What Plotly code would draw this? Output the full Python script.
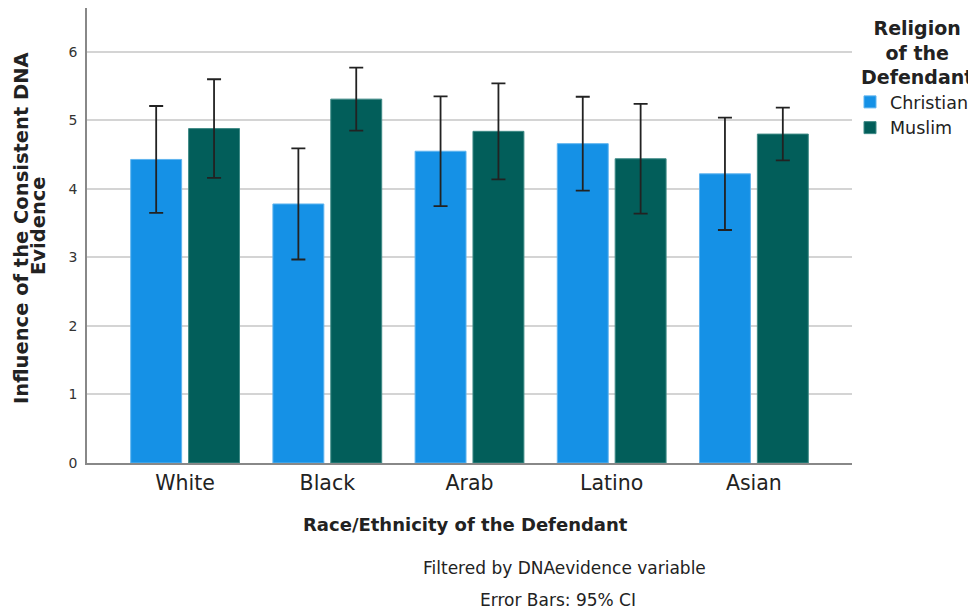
import plotly.graph_objects as go

categories = ["White", "Black", "Arab", "Latino", "Asian"]
christian_mean = [4.43, 3.78, 4.55, 4.66, 4.22]
christian_hi = [5.21, 4.59, 5.35, 5.345, 5.04]
muslim_mean = [4.88, 5.31, 4.84, 4.44, 4.80]
muslim_hi = [5.60, 5.77, 5.54, 5.24, 5.185]

c_err = [h - m for h, m in zip(christian_hi, christian_mean)]
m_err = [h - m for h, m in zip(muslim_hi, muslim_mean)]

FONT = "DejaVu Sans, sans-serif"
OFF = 8  # page body margin
W, H = 976 - OFF, 613 - OFF
L, T = 87 - OFF, 8 - OFF
R = W - (852 - OFF)
B = H - (463 - OFF)
PW, PH = W - L - R, H - T - B


def px(x):  # screenshot x -> paper
    return (x - OFF - L) / PW


def py(y):  # screenshot y (from top) -> paper
    return (H - B - (y - OFF)) / PH


fig = go.Figure()
fig.add_trace(go.Bar(
    x=categories, y=christian_mean, name="Christian",
    marker=dict(color="#1591E6", line=dict(color="#5fb4ef", width=1)),
    error_y=dict(type="data", array=c_err, visible=True, color="#222222", thickness=1.8, width=7),
))
fig.add_trace(go.Bar(
    x=categories, y=muslim_mean, name="Muslim",
    marker=dict(color="#025E5A", line=dict(color="#3f8a86", width=1)),
    error_y=dict(type="data", array=m_err, visible=True, color="#222222", thickness=1.8, width=7),
))

fig.update_layout(
    width=W, height=H,
    margin=dict(l=L, r=R, t=T, b=B, autoexpand=False),
    plot_bgcolor="white", paper_bgcolor="white",
    barmode="group", bargap=0.186, bargroupgap=0.12,
    font=dict(family=FONT, color="#222222"),
    showlegend=True,
    legend=dict(x=px(850), xanchor="left", y=py(84), yanchor="top",
                font=dict(size=17.5, family=FONT, color="#222222"),
                tracegroupgap=0, bgcolor="rgba(0,0,0,0)"),
    xaxis=dict(range=[-0.69, 4.69], showline=True, linecolor="#888888", linewidth=1.5,
               ticks="", automargin=False, ticklabelstandoff=1,
               tickfont=dict(size=20.5, family=FONT, color="#222222")),
    yaxis=dict(range=[0, 6.64], showline=True, linecolor="#888888", linewidth=1.5,
               tickvals=[0, 1, 2, 3, 4, 5, 6], ticks="", automargin=False, ticklabelstandoff=5,
               tickfont=dict(size=14, family=FONT, color="#333333"),
               showgrid=True, gridcolor="#d4d4d4", gridwidth=1.5, zeroline=False),
    annotations=[
        dict(text="<b>Influence of the Consistent DNA</b>", textangle=-90,
             x=px(22), y=py(228), xref="paper", yref="paper", showarrow=False,
             font=dict(size=19.5, family=FONT, color="#222222"),
             xanchor="center", yanchor="middle"),
        dict(text="<b>Evidence</b>", textangle=-90,
             x=px(39), y=py(226), xref="paper", yref="paper", showarrow=False,
             font=dict(size=19.5, family=FONT, color="#222222"),
             xanchor="center", yanchor="middle"),
        dict(text="<b>Race/Ethnicity of the Defendant</b>",
             x=px(465), y=py(524), xref="paper", yref="paper", showarrow=False,
             font=dict(size=18, family=FONT, color="#222222"),
             xanchor="center", yanchor="middle"),
        dict(text="<b>Religion<br>of the<br>Defendant</b>", x=px(917), y=py(15),
             xref="paper", yref="paper", showarrow=False,
             font=dict(size=19, family=FONT, color="#222222"), align="center",
             xanchor="center", yanchor="top"),
        dict(text="Filtered by DNAevidence variable", x=px(564), y=py(568),
             xref="paper", yref="paper", showarrow=False,
             font=dict(size=17, family=FONT, color="#222222"),
             xanchor="center", yanchor="middle"),
        dict(text="Error Bars: 95% CI", x=px(558), y=py(600),
             xref="paper", yref="paper", showarrow=False,
             font=dict(size=17, family=FONT, color="#222222"),
             xanchor="center", yanchor="middle"),
    ],
)

fig.write_html("out.html")
